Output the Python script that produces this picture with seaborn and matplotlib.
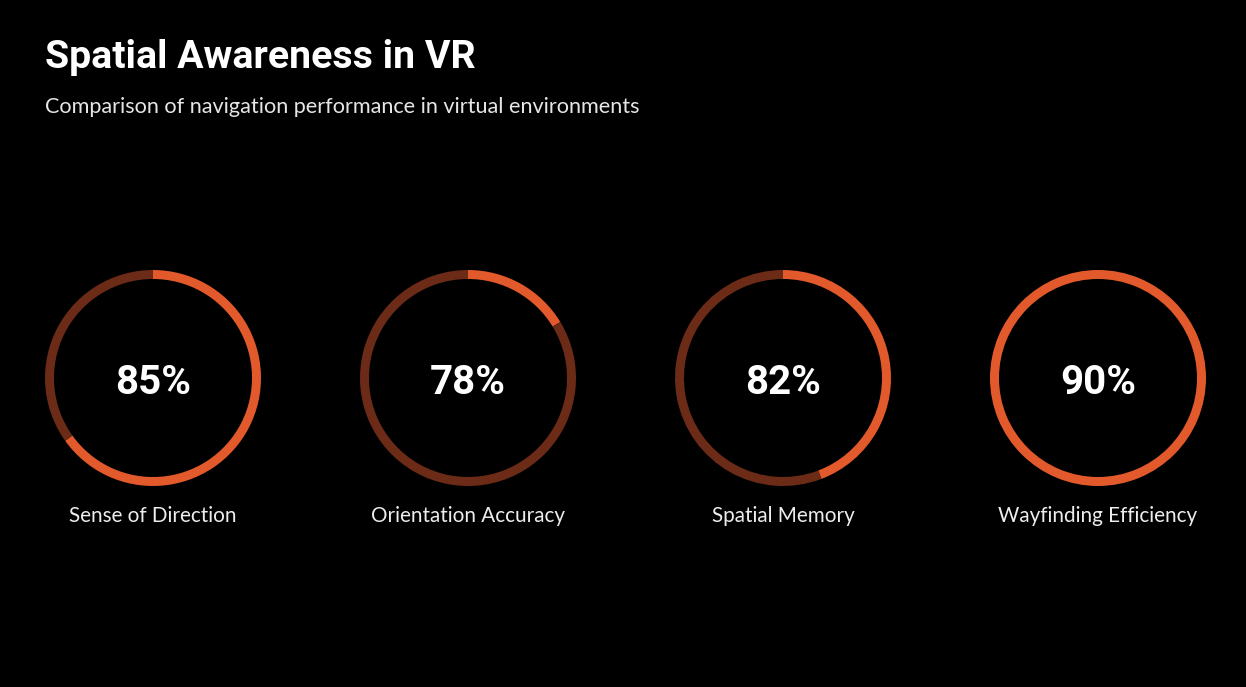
import matplotlib
matplotlib.use("Agg")
import matplotlib.pyplot as plt
import seaborn as sns

# ---- data ----
categories = ["Sense of Direction", "Orientation Accuracy", "Spatial Memory", "Wayfinding Efficiency"]
values = [85, 78, 82, 90]
title = "Spatial Awareness in VR"
subtitle = "Comparison of navigation performance in virtual environments"

ORANGE = "#E2592B"
DARK = "#6B2B17"
BG = "#000000"

sns.set_theme(style="dark", rc={
    "figure.facecolor": BG,
    "axes.facecolor": BG,
    "savefig.facecolor": BG,
})

W, H = 1246, 687
fig = plt.figure(figsize=(W / 100, H / 100), dpi=100)

# arc scale domain: [0.97 * min, max]
lo = min(values) * 0.97
hi = max(values)

R_OUT = 108.0
STROKE = 9.0
centers_x = [153, 468, 783, 1098]
cy = 378

for cx, cat, v in zip(centers_x, categories, values):
    ax = fig.add_axes([(cx - R_OUT) / W, (H - cy - R_OUT) / H, 2 * R_OUT / W, 2 * R_OUT / H])
    ax.set_facecolor(BG)
    frac = (v - lo) / (hi - lo)
    frac = min(max(frac, 0.0), 1.0)
    sizes = [frac, 1 - frac] if frac < 1 else [1.0]
    cols = [ORANGE, DARK] if frac < 1 else [ORANGE]
    ax.pie(sizes, colors=cols, startangle=90, counterclock=False, radius=1.0,
           wedgeprops=dict(width=STROKE / R_OUT, linewidth=0, edgecolor="none"))
    ax.set_xlim(-1, 1)
    ax.set_ylim(-1, 1)
    ax.set_aspect("equal")
    ax.axis("off")
    ax.text(0, -0.045, f"{v}%", ha="center", va="center", color="white",
            fontsize=29, fontweight="bold", family=["Roboto", "DejaVu Sans"])
    fig.text(cx / W, 1 - 516 / H, cat, ha="center", va="center", color="#EDEDED",
             fontsize=14.85, family=["Lato", "DejaVu Sans"])

fig.text(45 / W, 1 - 58 / H, title, ha="left", va="center", color="white",
         fontsize=28.3, fontweight="bold", family=["Roboto", "DejaVu Sans"])
fig.text(45 / W, 1 - 107 / H, subtitle, ha="left", va="center", color="#E6E6E6",
         fontsize=15.6, family=["Lato", "DejaVu Sans"])

fig.savefig("out.png", dpi=100, facecolor=BG)
